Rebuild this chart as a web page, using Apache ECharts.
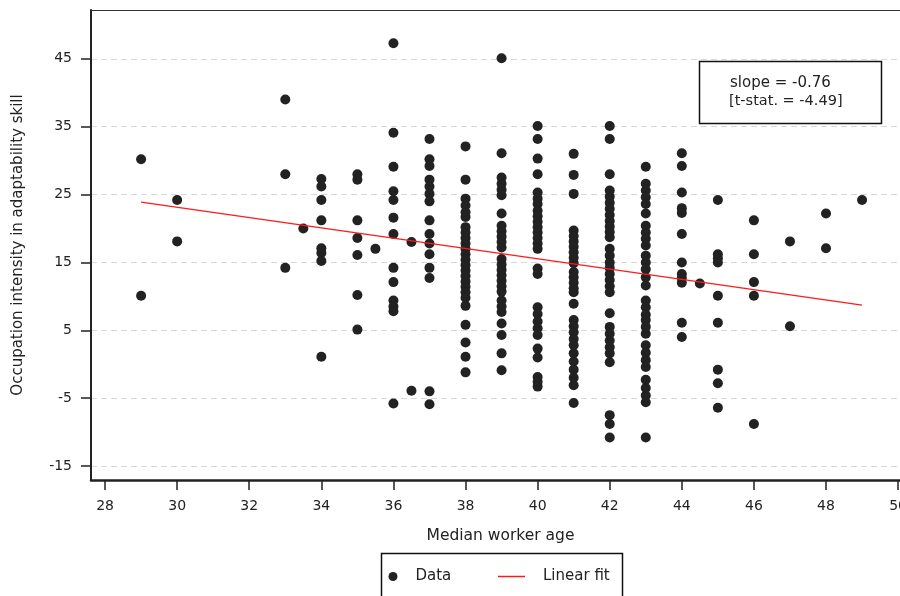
<!DOCTYPE html>
<html>
<head>
<meta charset="utf-8">
<style>
  html, body { margin: 0; padding: 0; background: #fff; }
  #chart { width: 900px; height: 596px; }
</style>
<script src="https://cdn.jsdelivr.net/npm/echarts@6/dist/echarts.min.js"></script>
</head>
<body>
<div id="chart"></div>
<script>
  // median worker age of each column of dots
  const ages = [29, 30, 33, 33.5, 34, 35, 35.5, 36, 36.5, 37, 38, 39, 40, 41, 42, 43, 44, 44.5, 45, 46, 47, 48, 49];
  // adaptability scores per age column
  const scores = [
    [30.2, 10.1],
    [24.2, 18.1],
    [39.0, 28.0, 14.2],
    [20.0],
    [27.3, 26.2, 24.2, 21.2, 17.1, 16.4, 15.2, 1.1],
    [28.0, 27.2, 21.2, 18.6, 16.1, 10.2, 5.1],
    [17.0],
    [47.3, 34.1, 29.1, 25.5, 24.2, 21.6, 19.2, 14.2, 12.1, 9.4, 8.5, 7.8, -5.8],
    [18.0, -3.9],
    [33.2, 30.2, 29.2, 27.2, 26.2, 25.1, 24.0, 21.2, 19.2, 17.8, 16.2, 14.2, 12.7, -4.0, -5.9],
    [32.1, 27.2, 24.4, 23.4, 22.4, 21.7, 20.2, 19.4, 18.6, 17.8, 17.0, 16.2, 15.4, 14.6, 13.8, 13.0, 12.2, 11.4, 10.6, 9.8, 8.6, 5.8, 3.2, 1.1, -1.2],
    [45.1, 31.1, 27.5, 26.6, 25.7, 24.9, 22.2, 20.4, 19.6, 18.8, 18.0, 17.2, 15.5, 14.7, 13.9, 13.1, 12.3, 11.5, 10.7, 9.4, 8.5, 7.7, 6.0, 4.3, 1.6, -0.9],
    [35.1, 33.2, 30.3, 28.0, 25.3, 24.4, 23.6, 22.6, 21.8, 21.0, 20.2, 19.4, 18.6, 17.8, 17.0, 14.1, 13.3, 8.4, 7.4, 6.3, 5.3, 4.3, 2.3, 1.0, -1.9, -2.6, -3.3],
    [31.0, 27.9, 25.1, 19.7, 18.9, 18.1, 17.3, 16.5, 15.7, 14.9, 13.6, 12.8, 12.0, 11.2, 10.6, 8.9, 6.5, 5.6, 4.7, 3.7, 2.8, 1.6, 0.4, -0.8, -2.0, -3.1, -5.7],
    [35.1, 33.2, 28.0, 25.6, 24.7, 23.8, 22.9, 22.0, 21.1, 20.3, 19.5, 18.7, 17.0, 16.0, 15.0, 14.2, 13.3, 12.4, 11.5, 10.6, 7.5, 5.5, 4.5, 3.5, 2.5, 1.6, 0.3, -7.5, -8.8, -10.8],
    [29.1, 26.6, 25.6, 24.6, 23.6, 22.2, 20.4, 19.4, 18.5, 17.5, 16.0, 15.0, 14.0, 12.8, 11.6, 9.4, 8.4, 7.3, 6.5, 5.5, 4.5, 2.8, 1.7, 0.6, -0.4, -2.3, -3.5, -4.6, -5.6, -10.8],
    [31.1, 29.2, 25.3, 23.0, 22.3, 19.2, 15.0, 13.3, 12.7, 12.0, 6.1, 4.0],
    [11.9],
    [24.2, 16.2, 15.6, 15.0, 10.1, 6.1, -0.8, -2.8, -6.4],
    [21.2, 16.2, 12.1, 10.1, -8.8],
    [18.1, 5.6],
    [22.2, 17.1],
    [24.2]
  ];
  // end points of the red fitted line
  const fitAges = [29, 49];
  const fitScores = [23.9, 8.7];
  const xTicks = [28, 30, 32, 34, 36, 38, 40, 42, 44, 46, 48, 50];
  const yTicks = [-15, -5, 5, 15, 25, 35, 45];
  const slopeText = 'slope = -0.76';
  const tstatText = '[t-stat. = -4.49]';

  const font = "'DejaVu Sans', Verdana, sans-serif";
  const ink = '#222';

  let points = [];
  ages.forEach((a, i) => {
    scores[i].forEach(s => points.push([a, s]));
  });
  let fitLine = fitAges.map((a, i) => [a, fitScores[i]]);

  let chart = echarts.init(document.getElementById('chart'), null, { renderer: 'canvas' });

  let option = {
    animation: false,
    backgroundColor: '#fff',
    textStyle: { fontFamily: font },
    grid: {
      left: 91,
      top: 10,
      width: 819,
      height: 470,
      outerBoundsMode: 'none',
      containLabel: false,
      show: false
    },
    xAxis: {
      type: 'value',
      min: 27.61,
      max: 50.33,
      name: 'Median worker age',
      nameLocation: 'middle',
      nameGap: 48,
      nameTextStyle: { fontSize: 15.5, color: ink, fontFamily: font },
      axisLine: { onZero: false, lineStyle: { color: '#222', width: 2.5 } },
      axisTick: { customValues: xTicks, length: 10, lineStyle: { color: '#222', width: 1.5 } },
      axisLabel: { customValues: xTicks, margin: 19, fontSize: 14, color: ink, fontFamily: font },
      splitLine: { show: false }
    },
    yAxis: {
      type: 'value',
      min: -17.06,
      max: 52.2,
      name: 'Occupation intensity in adaptability skill',
      nameLocation: 'middle',
      nameGap: 65,
      nameTextStyle: { fontSize: 15, color: ink, fontFamily: font },
      axisLine: { onZero: false, lineStyle: { color: '#222', width: 2 } },
      axisTick: { customValues: yTicks, length: 10, lineStyle: { color: '#222', width: 1.5 } },
      axisLabel: { customValues: yTicks, margin: 19, fontSize: 14, color: ink, fontFamily: font },
      splitLine: { show: true, lineStyle: { color: '#d9d9d9', width: 1, type: [6, 4] } }
    },
    legend: [
      {
        data: ['Data'],
        left: 383.5,
        top: 564,
        icon: 'circle',
        itemWidth: 9,
        itemHeight: 9,
        textStyle: { fontSize: 15, color: ink, fontFamily: font, padding: [0, 0, 0, 13] },
        selectedMode: false
      },
      {
        data: [{ name: 'Linear fit', icon: 'rect' }],
        left: 493,
        top: 564,
        itemWidth: 27,
        itemHeight: 1.5,
        textStyle: { fontSize: 15, color: ink, fontFamily: font, padding: [0, 0, 0, 13] },
        selectedMode: false
      }
    ],
    graphic: [
      {
        // top frame of the plot
        type: 'line',
        shape: { x1: 91, y1: 10.5, x2: 900, y2: 10.5 },
        style: { stroke: '#333', lineWidth: 1.2 },
        z: 100
      },
      {
        type: 'rect',
        shape: { x: 381.5, y: 553.5, width: 241, height: 60 },
        style: { fill: 'none', stroke: '#111', lineWidth: 1.5 },
        z: 100
      },
      {
        type: 'group',
        z: 100,
        children: [
          {
            type: 'rect',
            shape: { x: 699.5, y: 61.5, width: 182, height: 62 },
            style: { fill: '#fff', stroke: '#111', lineWidth: 1.5 }
          },
          {
            type: 'text',
            x: 730,
            y: 83,
            style: { text: slopeText, font: '15px ' + font, fill: ink, align: 'left', verticalAlign: 'middle' }
          },
          {
            type: 'text',
            x: 729,
            y: 101,
            style: { text: tstatText, font: '14.5px ' + font, fill: ink, align: 'left', verticalAlign: 'middle' }
          }
        ]
      }
    ],
    series: [
      {
        name: 'Data',
        type: 'scatter',
        data: points,
        symbol: 'circle',
        symbolSize: 10,
        itemStyle: { color: '#222', opacity: 1 },
        z: 3
      },
      {
        name: 'Linear fit',
        type: 'line',
        data: fitLine,
        symbol: 'none',
        lineStyle: { color: '#ff1a1a', width: 1.2 },
        itemStyle: { color: '#ff1a1a' },
        z: 4
      }
    ]
  };

  chart.setOption(option);
</script>
</body>
</html>
